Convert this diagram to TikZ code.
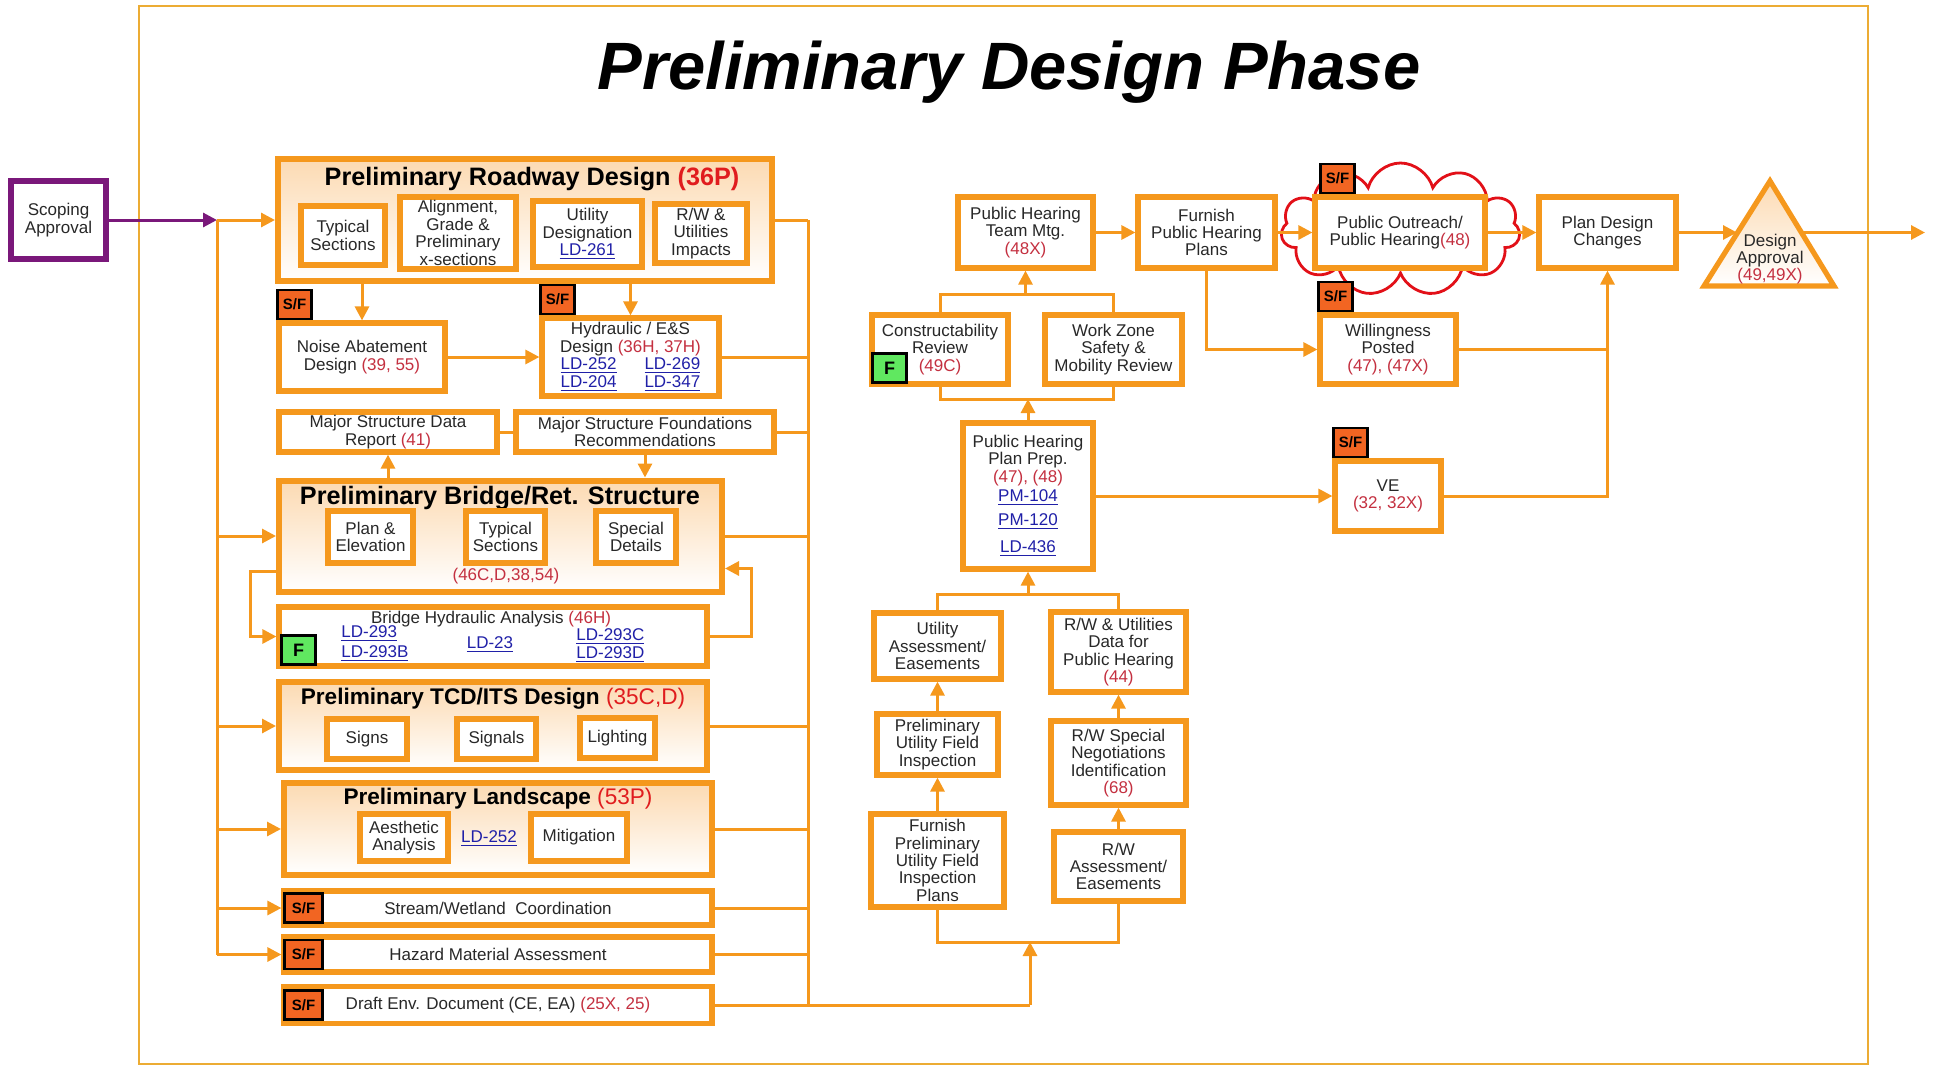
\documentclass[tikz,border=0pt]{standalone}
\usepackage{fontspec}
\setmainfont{Liberation Sans}
\usetikzlibrary{arrows.meta,positioning,calc,shapes.symbols,shapes.geometric}
\definecolor{orng}{RGB}{245,152,29}
\definecolor{frm}{RGB}{236,172,52}
\definecolor{peach}{RGB}{252,218,178}
\definecolor{numred}{RGB}{196,48,64}
\definecolor{ttlred}{RGB}{224,28,30}
\definecolor{lnkblue}{RGB}{32,32,168}
\definecolor{sforng}{RGB}{242,101,34}
\definecolor{fgreen}{RGB}{96,232,96}
\definecolor{purp}{RGB}{122,24,122}
\definecolor{txt}{RGB}{40,40,40}
\definecolor{cloudred}{RGB}{226,16,24}
\newcommand{\nr}[1]{\textcolor{numred}{#1}}
\newcommand{\lnk}[1]{\textcolor{lnkblue}{\underline{#1}}}
\newcommand{\gtitle}{\fontsize{12.6}{14}\selectfont\bfseries}
\newcommand{\gtitlesm}{\fontsize{11.3}{13}\selectfont\bfseries}
\newcommand{\btext}{\fontsize{8.5}{8.7}\selectfont}

\begin{document}
\begin{tikzpicture}[x=0.5pt,y=-0.5pt,>={Triangle[length=7pt,width=7pt]}]
\tikzstyle{proc node}=[rectangle,draw=orng,line width=2.6pt,fill=white,inner sep=1pt,align=center,text=txt,font=\btext]
\tikzstyle{group node}=[rectangle,draw=orng,line width=3pt,top color=peach,bottom color=white,inner sep=0pt]
\tikzstyle{flow}=[orng,line width=1.5pt]

\tikzset{
	sf node/.style={rectangle,draw=black,line width=1.2pt,fill=sforng,inner sep=0pt,minimum width=17pt,minimum height=14.5pt,font=\fontsize{7.5}{8}\selectfont\bfseries},
	f node/.style={rectangle,draw=black,line width=1.2pt,fill=fgreen,inner sep=0pt,minimum width=17pt,minimum height=14.5pt,font=\fontsize{9}{9}\selectfont\bfseries},
	label text/.style={align=center,text=txt,font=\btext,inner sep=0pt}
}

    \useasboundingbox (0,0) rectangle (1935,1066);
    \draw[frm,line width=1.2pt] (139,6) rectangle (1868,1064);
    \node[font=\fontsize{33.5}{36}\selectfont\bfseries\itshape] (ttl) at (1009,72) {Preliminary Design Phase};

    \node[rectangle,draw=purp,line width=2.6pt,fill=white,minimum width=47.5pt,minimum height=39pt,align=center,text=txt,font=\btext] (scop) at (58.5,220) {Scoping\\Approval};

    \node[group node,minimum width=247pt,minimum height=61pt] (rd) at (525,220) {};
    \node[font=\gtitle] (rdt) at (532,179) {Preliminary Roadway Design \textcolor{ttlred}{(36P)}};
    \node[proc node,minimum width=42pt,minimum height=29.5pt] (ts1) at (343,235.5) {Typical\\Sections};
    \node[proc node,minimum width=58pt,minimum height=36pt] (ags) at (458,233) {Alignment,\\Grade \&\\Preliminary\\x-sections};
    \node[proc node,minimum width=54.5pt,minimum height=33pt] (ud) at (587.5,234) {Utility\\Designation\\\lnk{LD-261}};
    \node[proc node,minimum width=46pt,minimum height=29.5pt] (rwi) at (701,233.5) {R/W \&\\Utilities\\Impacts};

    \node[proc node,minimum width=83pt,minimum height=34pt] (noise) at (362,357) {Noise Abatement\\Design \nr{(39, 55)}};
    \node[sf node,anchor=south west] (sf1) at (noise.north west) {S/F};
    \node[proc node,minimum width=88.5pt,minimum height=39pt] (hyd) at (630.5,357) {Hydraulic / E\&S\\Design \nr{(36H, 37H)}\\\lnk{LD-252}\hspace{14pt}\lnk{LD-269}\\\lnk{LD-204}\hspace{14pt}\lnk{LD-347}};
    \node[sf node,anchor=south west] (sf2) at (hyd.north west) {S/F};

    \node[proc node,minimum width=109pt,minimum height=20pt] (msd) at (388,432) {Major Structure Data\\Report \nr{(41)}};
    \node[proc node,minimum width=129pt,minimum height=20pt] (fnd) at (645,432) {Major Structure Foundations\\Recommendations};

    \node[group node,minimum width=221.5pt,minimum height=55.5pt] (br) at (500.5,536) {};
    \node[font=\gtitle] (brt) at (500,498) {Preliminary Bridge/Ret. Structure};
    \node[proc node,minimum width=42.5pt,minimum height=26pt] (pe) at (370.5,537) {Plan \&\\Elevation};
    \node[proc node,minimum width=39.5pt,minimum height=26pt] (ts2) at (505.5,537) {Typical\\Sections};
    \node[proc node,minimum width=40pt,minimum height=26pt] (sd) at (636,537) {Special\\Details};
    \node[label text] (brn) at (506,576) {\nr{(46C,D,38,54)}};

    \node[proc node,minimum width=214pt,minimum height=29.5pt] (bha) at (493,636.5) {};
    \node[label text] (bhat) at (491,619) {Bridge Hydraulic Analysis \nr{(46H)}};
    \node[label text,anchor=west] (l293) at (341,634) {\lnk{LD-293}};
    \node[label text,anchor=west] (l293b) at (341,654) {\lnk{LD-293B}};
    \node[label text] (l23) at (490,645) {\lnk{LD-23}};
    \node[label text,anchor=west] (l293c) at (576,637) {\lnk{LD-293C}};
    \node[label text,anchor=west] (l293d) at (576,655) {\lnk{LD-293D}};
    \node[f node,anchor=south west] (f1) at ([shift={(2pt,1.5pt)}]bha.south west) {F};

    \node[group node,minimum width=214pt,minimum height=44pt] (tcd) at (493,726) {};
    \node[font=\gtitlesm] (tcdt) at (493,699) {Preliminary TCD/ITS Design \textcolor{ttlred}{\mdseries(35C,D)}};
    \node[proc node,minimum width=40pt,minimum height=20pt] (sg) at (367,739) {Signs};
    \node[proc node,minimum width=39.5pt,minimum height=20pt] (sl) at (496.5,739) {Signals};
    \node[proc node,minimum width=37.5pt,minimum height=20pt] (lt) at (617.5,738) {Lighting};

    \node[group node,minimum width=214pt,minimum height=46pt] (ls) at (498,829) {};
    \node[font=\gtitlesm] (lst) at (498,799) {Preliminary Landscape \textcolor{ttlred}{\mdseries(53P)}};
    \node[proc node,minimum width=44pt,minimum height=23.5pt] (aa) at (404,837.5) {Aesthetic\\Analysis};
    \node[label text] (l252) at (489,839) {\lnk{LD-252}};
    \node[proc node,minimum width=48pt,minimum height=23.5pt] (mi) at (579,837.5) {Mitigation};

    \node[proc node,minimum width=214pt,minimum height=17pt] (sw) at (498,908) {Stream/Wetland~ Coordination};
    \node[sf node,anchor=west,minimum width=19pt] (sf3) at ([xshift=1pt]sw.west) {S/F};
    \node[proc node,minimum width=214pt,minimum height=17.5pt] (hz) at (498,954.5) {Hazard Material Assessment};
    \node[sf node,anchor=west,minimum width=19pt] (sf4) at ([xshift=1pt]hz.west) {S/F};
    \node[proc node,minimum width=214pt,minimum height=18.5pt] (de) at (498,1005) {Draft Env. Document (CE, EA) \nr{(25X, 25)}};
    \node[sf node,anchor=west,minimum width=19pt] (sf5) at ([xshift=1pt]de.west) {S/F};

    \node[proc node,minimum width=67.5pt,minimum height=35.5pt] (tm) at (1025.5,232.5) {Public Hearing\\Team Mtg.\\\nr{(48X)}};
    \node[proc node,minimum width=68.5pt,minimum height=35.5pt] (fph) at (1206.5,232.5) {Furnish\\Public Hearing\\Plans};
    \node[cloud,cloud puffs=11,cloud ignores aspect,draw=cloudred,line width=1.4pt,fill=white,minimum width=119.5pt,minimum height=66.5pt] (cl) at (1400.5,229.5) {};
    \node[proc node,minimum width=85pt,minimum height=35.5pt] (po) at (1400,232.5) {Public Outreach/\\Public Hearing\nr{(48)}};
    \node[sf node,anchor=south west] (sf6) at ([xshift=3.5pt]po.north west) {S/F};
    \node[proc node,minimum width=68.5pt,minimum height=35.5pt] (pdc) at (1607.5,232.5) {Plan Design\\Changes};
    \draw[orng,line width=2.6pt,top color=peach,bottom color=white] (1704,286) -- (1770,181) -- (1834,286) -- cycle;
    \node[label text] (da) at (1770,259) {Design\\Approval\\\nr{(49,49X)}};
    \coordinate (dal) at (1737,232.5);
    \coordinate (dar) at (1803,232.5);
    \coordinate (outR) at (1925,232.5);

    \node[proc node,minimum width=68pt,minimum height=34.5pt] (cr) at (940,349.5) {Constructability\\Review\\\nr{(49C)}};
    \node[f node,anchor=south west] (f2) at ([shift={(1pt,1.5pt)}]cr.south west) {F};
    \node[proc node,minimum width=68.5pt,minimum height=34.5pt] (wz) at (1113.5,349.5) {Work Zone\\Safety \&\\Mobility Review};
    \node[proc node,minimum width=68pt,minimum height=34.5pt] (wp) at (1388,349.5) {Willingness\\Posted\\\nr{(47), (47X)}};
    \node[sf node,anchor=south west] (sf7) at (wp.north west) {S/F};

    \node[proc node,minimum width=65pt,minimum height=73pt] (pp) at (1028,496) {Public Hearing\\Plan Prep.\\\nr{(47), (48)}\\[1pt]\lnk{PM-104}\\[3pt]\lnk{PM-120}\\[5pt]\lnk{LD-436}};
    \node[proc node,minimum width=53pt,minimum height=35pt] (ve) at (1388,496) {VE\\\nr{(32, 32X)}};
    \node[sf node,anchor=south west] (sf8) at (ve.north west) {S/F};

    \node[proc node,minimum width=63.5pt,minimum height=33pt] (ua) at (937.5,646) {Utility\\Assessment/\\Easements};
    \node[proc node,minimum width=67.5pt,minimum height=40pt] (rwd) at (1118.5,652) {R/W \& Utilities\\Data for\\Public Hearing\\\nr{(44)}};
    \node[proc node,minimum width=60.5pt,minimum height=30.5pt] (pufi) at (937.5,744.5) {Preliminary\\Utility Field\\Inspection};
    \node[proc node,minimum width=67.5pt,minimum height=42pt] (rws) at (1118.5,763) {R/W Special\\Negotiations\\Identification\\\nr{(68)}};
    \node[proc node,minimum width=66.5pt,minimum height=46.5pt] (fpufi) at (937.5,860.5) {Furnish\\Preliminary\\Utility Field\\Inspection\\Plans};
    \node[proc node,minimum width=64.5pt,minimum height=34.5pt] (rwa) at (1118.5,866.5) {R/W\\Assessment/\\Easements};

    \coordinate (lb) at (217,220);
    \coordinate (lbe) at (217,954.5);
    \coordinate (rb) at (808,220);
    \coordinate (rbe) at (808,1005);
    \coordinate (jb) at (1030,1005);
    \coordinate (jbt) at (1030,942);
    \coordinate (jd) at (1025.5,294);
    \coordinate (jc) at (1028,399);
    \coordinate (jt) at (1028,594);

    \draw[purp,line width=1.5pt,->] (scop.east) -- (lb);
    \draw[flow] (lb) -- (lbe);
    \foreach \n in {rd,br,tcd,ls,sw,hz}
        \draw[flow,->] (\n.west -| lb) -- (\n.west);
    \foreach \n in {rd,hyd,fnd,br,tcd,ls,sw,hz,de}
        \draw[flow] (\n.east) -- (\n.east -| rb);
    \draw[flow] (rb) -- (rbe) -- (jb);
    \draw[flow,->] (jb) -- (jbt);

    \draw[flow,->] (rd.south -| noise.north) -- (noise.north);
    \draw[flow,->] (rd.south -| hyd.north) -- (hyd.north);
    \draw[flow,->] (noise.east) -- (hyd.west);
    \draw[flow] (msd.east) -- (fnd.west);
    \draw[flow,->] (br.north -| msd.south) -- (msd.south);
    \draw[flow,->] (fnd.south) -- (fnd.south |- br.north);
    \draw[flow,->] ([yshift=11.5pt]br.south west) -- ++(-26,0) |- (bha.west);
    \draw[flow,->] (bha.east) -- ++(42,0) |- ([yshift=13pt]br.south east);

    \draw[flow,->] (tm.east) -- (fph.west);
    \draw[flow,->] (fph.east) -- (po.west);
    \draw[flow,->] (po.east) -- (pdc.west);
    \draw[flow,->] (pdc.east) -- (dal);
    \draw[flow,->] (dar) -- (outR);
    \draw[flow,->] (fph.south) |- (wp.west);
    \draw[flow] (wp.east) -- (wp.east -| pdc.south);
    \draw[flow,->] (ve.east) -| (pdc.south);
    \draw[flow,->] (pp.east) -- (ve.west);
    \draw[flow] (cr.north) |- (jd) -| (wz.north);
    \draw[flow,->] (jd) -- (tm.south);
    \draw[flow] (cr.south) |- (jc) -| (wz.south);
    \draw[flow,->] (pp.north) -- (jc);
    \draw[flow] (ua.north) |- (jt) -| (rwd.north);
    \draw[flow,->] (jt) -- (pp.south);
    \draw[flow,->] (fpufi.north) -- (pufi.south);
    \draw[flow,->] (pufi.north) -- (ua.south);
    \draw[flow,->] (rwa.north) -- (rws.south);
    \draw[flow,->] (rws.north) -- (rwd.south);
    \draw[flow] (fpufi.south) |- (jbt) -| (rwa.south);
\end{tikzpicture}
\end{document}
